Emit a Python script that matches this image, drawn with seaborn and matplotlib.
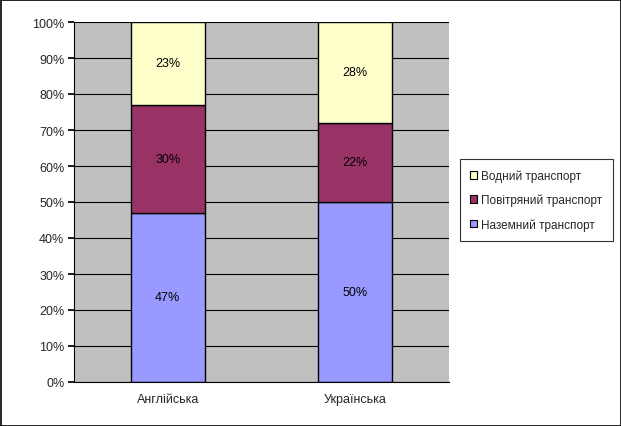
import matplotlib
import matplotlib.pyplot as plt
import numpy as np
import pandas as pd
import seaborn as sns
from matplotlib.patches import Rectangle

matplotlib.use("Agg")

languages = ["Англійська", "Українська"]
series_names = ["Наземний транспорт", "Повітряний транспорт", "Водний транспорт"]
ground = [47, 50]
air = [30, 22]
water = [23, 28]
series_values = [ground, air, water]
series_colors = ["#9999FF", "#993366", "#FFFFCC"]
y_ticks = list(range(0, 101, 10))

sns.set_theme(style="white")
plt.rcParams["font.family"] = ["Liberation Sans", "DejaVu Sans"]

fig = plt.figure(figsize=(6.21, 4.27), dpi=100)
ax = fig.add_axes([74 / 621, 1 - 383 / 427, 375 / 621, 360 / 427])
ax.set_facecolor("#C0C0C0")
ax.set_axisbelow(True)
ax.yaxis.grid(True, color="black", linewidth=0.8)

# stack the series one on another
bottom = np.zeros(len(languages))
for name, vals, col in zip(series_names, series_values, series_colors):
    df = pd.DataFrame({"lang": languages, "val": vals})
    sns.barplot(data=df, x="lang", y="val", ax=ax, color=col, bottom=bottom,
                width=0.395, edgecolor="black", linewidth=1, saturation=1)
    for i, v in enumerate(vals):
        ax.text(i, bottom[i] + v / 2, f"{v}%", ha="center", va="center",
                fontsize=9, color="black")
    bottom = bottom + np.array(vals)

if ax.get_legend() is not None:
    ax.get_legend().remove()

ax.set_xlim(-0.5, 1.5)
ax.set_ylim(0, 100)
ax.set_yticks(y_ticks)
ax.set_yticklabels([f"{t}%" for t in y_ticks], fontsize=9)
ax.set_xticks([0.5], minor=True)
ax.tick_params(axis="x", which="major", length=0, labelsize=9, pad=8)
ax.tick_params(axis="x", which="minor", length=4, color="black", direction="out")
ax.tick_params(axis="y", length=4, color="black", direction="out", left=True, pad=3)
ax.set_xlabel("")
ax.set_ylabel("")
for side in ["top", "right"]:
    ax.spines[side].set_visible(False)
for side in ["left", "bottom"]:
    ax.spines[side].set_color("black")
    ax.spines[side].set_linewidth(0.8)

handles = [Rectangle((0, 0), 1, 1, facecolor=c, edgecolor="black", linewidth=0.8)
           for c in series_colors][::-1]
labels = series_names[::-1]
leg = fig.legend(handles, labels, loc="center", bbox_to_anchor=(536 / 621, 1 - 201 / 427),
                 fontsize=8.5, frameon=True, fancybox=False, edgecolor="black",
                 handlelength=0.6, handleheight=0.6, handletextpad=0.3,
                 labelspacing=1.0, borderpad=0.9)
leg.get_frame().set_linewidth(0.8)

fig.add_artist(Rectangle((0.5 / 621, 0.5 / 427), 620 / 621, 426 / 427, transform=fig.transFigure,
                         fill=False, edgecolor="black", linewidth=1.2))

fig.savefig("out.png", dpi=100)
